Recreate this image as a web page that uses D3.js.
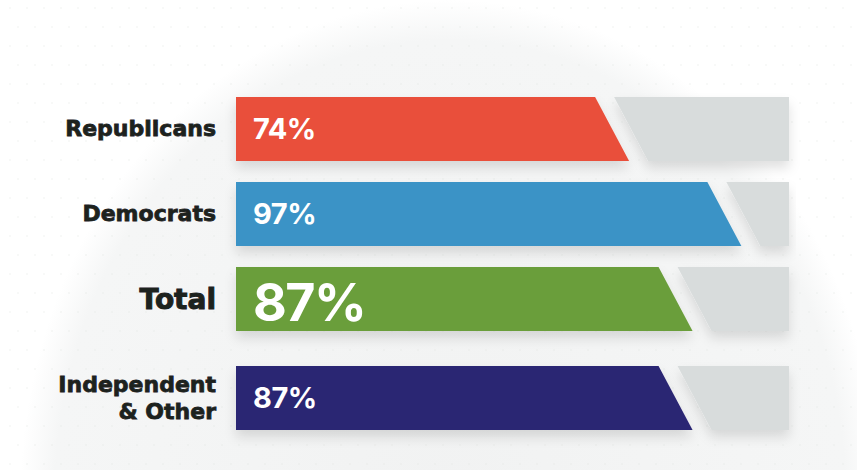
<!DOCTYPE html>
<html>
<head>
<meta charset="utf-8">
<script src="https://cdn.jsdelivr.net/npm/d3@7"></script>
<style>
  body { margin: 0; background: #fff; }
  svg { display: block; }
</style>
</head>
<body>
<div id="chart"></div>
<script>
// data
var categories = ["Republicans", "Democrats", "Total", "Independent & Other"];
var labelLines = [["Republicans"], ["Democrats"], ["Total"], ["Independent", "& Other"]];
var values = [74, 97, 87, 87];
var colors = ["#e9503a", "#3b93c6", "#6b9e3b", "#2a2573"];

var width = 857, height = 470;
var barLeft = 236, trackRight = 789, barH = 64, slant = 34, gap = 19;

// value -> middle of the slanted end of the bar
var xScale = d3.scaleLinear().domain([0, 100]).range([251, 739]);
// bar tops (the Total row gets a bit more room below it)
var yScale = d3.scaleOrdinal().domain(categories).range([97, 182, 267, 366]);

var svg = d3.select("#chart").append("svg")
    .attr("width", width)
    .attr("height", height);

var defs = svg.append("defs");
var grad = defs.append("radialGradient").attr("id", "globe")
    .attr("cx", "50%").attr("cy", "50%").attr("r", "50%");
grad.append("stop").attr("offset", "0%").attr("stop-color", "#f1f2f2");
grad.append("stop").attr("offset", "92%").attr("stop-color", "#f5f6f6");
grad.append("stop").attr("offset", "100%").attr("stop-color", "#ffffff");

var shadow = defs.append("filter").attr("id", "shadow")
    .attr("x", "-10%").attr("y", "-20%").attr("width", "120%").attr("height", "160%");
shadow.append("feDropShadow")
    .attr("dx", 0).attr("dy", 7).attr("stdDeviation", 6)
    .attr("flood-color", "#000").attr("flood-opacity", 0.12);

// faint globe behind the chart
svg.append("ellipse")
    .attr("cx", 450).attr("cy", 500)
    .attr("rx", 430).attr("ry", 500)
    .attr("fill", "url(#globe)");

// speckle dots
var dots = [];
for (var gx = 10; gx < width; gx += 17) {
  for (var gy = 8; gy < height; gy += 19) {
    dots.push([gx + (gy % 2) * 8, gy]);
  }
}
svg.append("g").selectAll("circle")
    .data(dots)
  .enter().append("circle")
    .attr("cx", function(d) { return d[0]; })
    .attr("cy", function(d) { return d[1]; })
    .attr("r", 0.8)
    .attr("fill", "#dfe5df")
    .attr("opacity", 0.5);

var rows = svg.append("g").selectAll("g.row")
    .data(categories)
  .enter().append("g")
    .attr("class", "row")
    .attr("transform", function(d) { return "translate(0," + yScale(d) + ")"; });

// grey remainder
rows.append("path")
    .attr("fill", "#d8dcdc")
    .attr("filter", "url(#shadow)")
    .attr("d", function(d, i) {
      var x = xScale(values[i]);
      return "M" + (x - slant / 2 + gap) + ",0H" + trackRight + "V" + barH +
             "H" + (x + slant / 2 + gap) + "Z";
    });

// coloured bar
rows.append("path")
    .attr("fill", function(d, i) { return colors[i]; })
    .attr("filter", "url(#shadow)")
    .attr("d", function(d, i) {
      var x = xScale(values[i]);
      return "M" + barLeft + ",0H" + (x - slant / 2) + "L" + (x + slant / 2) + "," + barH +
             "H" + barLeft + "Z";
    });

// value labels
rows.append("text")
    .attr("x", 253)
    .attr("y", function(d) { return d === "Total" ? barH / 2 + 22 : barH / 2 + 10; })
    .attr("fill", "#fff")
    .style("font-family", "Inter, 'Open Sans', sans-serif")
    .style("font-weight", 700)
    .style("font-size", function(d) { return d === "Total" ? "52px" : "29px"; })
    .style("letter-spacing", function(d) { return d === "Total" ? "-1.5px" : "-0.5px"; })
    .text(function(d, i) { return values[i] + "%"; });

// category labels
rows.append("text")
    .attr("text-anchor", "end")
    .attr("fill", "#1d221e")
    .attr("stroke", "#1d221e")
    .attr("stroke-width", function(d) { return d === "Total" ? 1 : 0.8; })
    .style("font-family", "'DejaVu Sans', sans-serif")
    .style("font-weight", "bold")
    .style("font-size", function(d) { return d === "Total" ? "28px" : "22px"; })
    .each(function(d, i) {
      var lines = labelLines[i];
      var t = d3.select(this);
      var first = barH / 2 + 7 - (lines.length - 1) * 13.5;
      if (d === "Total") first = barH / 2 + 10;
      lines.forEach(function(line, k) {
        t.append("tspan")
          .attr("x", 216)
          .attr("y", first + k * 27)
          .text(line);
      });
    });
</script>
</body>
</html>
